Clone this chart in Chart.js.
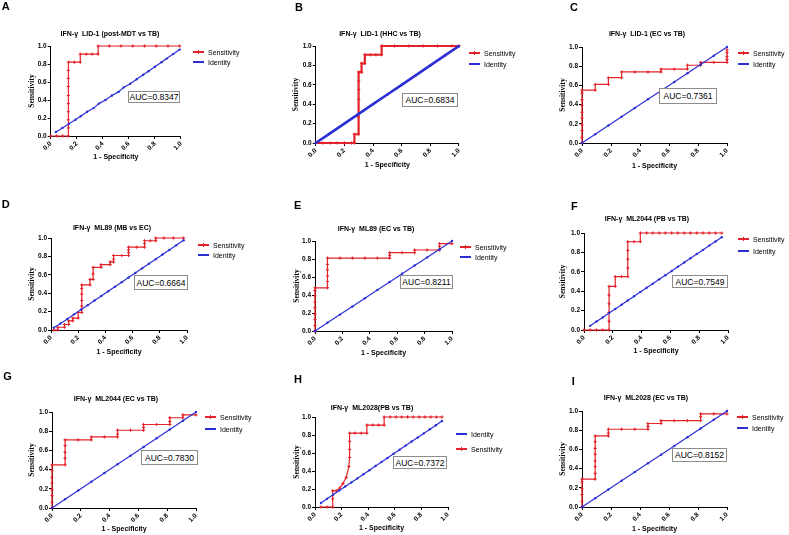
<!DOCTYPE html>
<html>
<head>
<meta charset="utf-8">
<script src="https://cdn.jsdelivr.net/npm/chart.js@4"></script>
<style>
html, body { margin: 0; padding: 0; background: #fff; }
#fig { position: relative; width: 789px; height: 535px; overflow: hidden; font-family: "Liberation Sans", Arial, sans-serif; color: #000; }
#fig canvas { position: absolute; left: 0; top: 0; }
.letter { position: absolute; font-weight: bold; font-size: 11px; line-height: 1; }
.ttl { position: absolute; font-weight: bold; font-size: 7px; line-height: 1; white-space: pre; transform: translate(-50%, -50%); }
.leg { position: absolute; display: flex; align-items: center; height: 8px; font-size: 7px; white-space: nowrap; }
.sw { position: relative; display: inline-block; width: 11px; height: 8px; margin-right: 4px; }
.sw::before { content: ''; position: absolute; left: 0; right: 0; top: 3.4px; height: 1.2px; background: currentColor; }
.sw.dot::after { content: ''; position: absolute; left: 4.2px; top: 2.7px; width: 2.6px; height: 2.6px; border-radius: 50%; background: currentColor; }
.sw.cross::after { content: ''; position: absolute; left: 5px; top: 2px; width: 1px; height: 4px; background: currentColor; }
.auc { position: absolute; box-sizing: border-box; border: 1px solid #8c8c8c; font-size: 8.5px; display: flex; align-items: center; justify-content: center; background: #fff; }
</style>
</head>
<body>
<div id="fig"></div>
<script>
// ROC points: [1 - specificity, sensitivity]
const sensA = [[0,0],[0.045,0],[0.091,0],[0.136,0],[0.136,0.09],[0.136,0.18],[0.136,0.27],[0.136,0.36],[0.136,0.45],[0.136,0.55],[0.136,0.64],[0.136,0.73],[0.136,0.82],[0.182,0.82],[0.227,0.82],[0.227,0.91],[0.273,0.91],[0.318,0.91],[0.364,0.91],[0.364,1],[0.45,1],[0.54,1],[0.63,1],[0.72,1],[0.81,1],[0.9,1],[0.99,1]];
const identA = [[0.04,0.045],[0.09,0.09],[0.14,0.135],[0.19,0.18],[0.23,0.22],[0.28,0.27],[0.33,0.31],[0.37,0.36],[0.42,0.4],[0.47,0.45],[0.52,0.49],[0.56,0.54],[0.61,0.58],[0.66,0.63],[0.71,0.68],[0.75,0.72],[0.8,0.77],[0.85,0.82],[0.89,0.86],[0.94,0.91],[0.99,0.96]];

const sensB = [[0,0],[0.05,0],[0.1,0],[0.15,0],[0.2,0],[0.25,0],[0.27,0],[0.27,0.09],[0.297,0.09],[0.297,0.27],[0.3,0.45],[0.3,0.55],[0.3,0.64],[0.3,0.73],[0.32,0.73],[0.32,0.82],[0.343,0.82],[0.343,0.91],[0.38,0.91],[0.42,0.91],[0.46,0.91],[0.46,1],[0.55,1],[0.65,1],[0.75,1],[0.85,1],[0.95,1],[1,1]];
const identB = [[0,0],[0.1,0.1],[0.2,0.2],[0.3,0.3],[0.4,0.4],[0.5,0.5],[0.6,0.6],[0.7,0.7],[0.8,0.8],[0.9,0.9],[1,1]];

const sensC = [[0,0],[0,0.06],[0,0.13],[0,0.19],[0,0.26],[0,0.32],[0,0.39],[0,0.45],[0,0.52],[0,0.55],[0.091,0.55],[0.091,0.61],[0.182,0.61],[0.182,0.68],[0.273,0.68],[0.273,0.74],[0.364,0.74],[0.455,0.74],[0.545,0.74],[0.545,0.77],[0.636,0.77],[0.727,0.77],[0.727,0.81],[0.818,0.81],[0.818,0.84],[0.909,0.84],[1,0.84],[1,0.87],[1,0.9],[1,0.94],[1,0.97]];
const identC = [[0,0],[0.091,0.091],[0.182,0.182],[0.273,0.273],[0.364,0.364],[0.455,0.455],[0.545,0.545],[0.636,0.636],[0.727,0.727],[0.818,0.818],[0.909,0.909],[1,1]];

const sensD = [[0.02,0],[0.05,0],[0.05,0.03],[0.1,0.03],[0.1,0.06],[0.13,0.06],[0.13,0.1],[0.16,0.1],[0.16,0.13],[0.2,0.13],[0.2,0.19],[0.226,0.19],[0.226,0.26],[0.226,0.32],[0.226,0.39],[0.226,0.45],[0.226,0.49],[0.287,0.49],[0.287,0.55],[0.31,0.55],[0.31,0.61],[0.31,0.68],[0.368,0.68],[0.368,0.71],[0.435,0.71],[0.435,0.74],[0.46,0.74],[0.46,0.77],[0.46,0.81],[0.52,0.81],[0.57,0.81],[0.57,0.84],[0.57,0.87],[0.57,0.9],[0.63,0.9],[0.688,0.9],[0.688,0.94],[0.688,0.97],[0.73,0.97],[0.77,0.97],[0.77,1],[0.83,1],[0.9,1],[0.975,1]];
const identD = [[0.02,0.025],[0.07,0.07],[0.12,0.12],[0.17,0.17],[0.22,0.22],[0.27,0.27],[0.32,0.32],[0.37,0.37],[0.42,0.42],[0.47,0.47],[0.52,0.52],[0.57,0.57],[0.62,0.62],[0.67,0.67],[0.72,0.72],[0.77,0.77],[0.82,0.82],[0.87,0.87],[0.92,0.92],[0.975,0.975]];

const sensE = [[0,0],[0,0.06],[0,0.13],[0,0.19],[0,0.26],[0,0.32],[0,0.39],[0,0.45],[0,0.48],[0.091,0.48],[0.091,0.55],[0.091,0.61],[0.091,0.68],[0.091,0.74],[0.091,0.81],[0.182,0.81],[0.273,0.81],[0.364,0.81],[0.455,0.81],[0.545,0.81],[0.545,0.84],[0.545,0.87],[0.636,0.87],[0.727,0.87],[0.727,0.9],[0.818,0.9],[0.909,0.9],[0.909,0.94],[0.909,0.97],[1,0.97]];
const identE = [[0,0],[0.091,0.091],[0.182,0.182],[0.273,0.273],[0.364,0.364],[0.455,0.455],[0.545,0.545],[0.636,0.636],[0.727,0.727],[0.818,0.818],[0.909,0.909],[1,1]];

const sensF = [[0,0],[0.043,0],[0.087,0],[0.13,0],[0.174,0],[0.174,0.09],[0.174,0.18],[0.174,0.27],[0.174,0.36],[0.174,0.45],[0.217,0.45],[0.217,0.55],[0.261,0.55],[0.304,0.55],[0.304,0.64],[0.304,0.73],[0.304,0.82],[0.304,0.91],[0.348,0.91],[0.391,0.91],[0.391,1],[0.435,1],[0.478,1],[0.522,1],[0.565,1],[0.609,1],[0.652,1],[0.696,1],[0.739,1],[0.783,1],[0.826,1],[0.87,1],[0.913,1],[0.957,1]];
const identF = [[0.043,0.043],[0.087,0.087],[0.13,0.13],[0.174,0.174],[0.217,0.217],[0.261,0.261],[0.304,0.304],[0.348,0.348],[0.391,0.391],[0.435,0.435],[0.478,0.478],[0.522,0.522],[0.565,0.565],[0.609,0.609],[0.652,0.652],[0.696,0.696],[0.739,0.739],[0.783,0.783],[0.826,0.826],[0.87,0.87],[0.913,0.913],[0.957,0.957]];

const sensG = [[0,0],[0,0.06],[0,0.13],[0,0.19],[0,0.26],[0,0.32],[0,0.39],[0,0.45],[0.091,0.45],[0.091,0.52],[0.091,0.58],[0.091,0.65],[0.091,0.71],[0.182,0.71],[0.273,0.71],[0.273,0.74],[0.364,0.74],[0.455,0.74],[0.455,0.77],[0.455,0.81],[0.545,0.81],[0.636,0.81],[0.636,0.84],[0.636,0.87],[0.727,0.87],[0.818,0.87],[0.818,0.9],[0.818,0.94],[0.909,0.94],[0.909,0.97],[1,0.97]];
const identG = [[0,0],[0.091,0.091],[0.182,0.182],[0.273,0.273],[0.364,0.364],[0.455,0.455],[0.545,0.545],[0.636,0.636],[0.727,0.727],[0.818,0.818],[0.909,0.909],[1,1]];

const sensH = [[0.045,0],[0.091,0],[0.133,0],[0.133,0.09],[0.133,0.18],[0.16,0.18],[0.185,0.21],[0.21,0.26],[0.235,0.33],[0.255,0.45],[0.26,0.55],[0.26,0.64],[0.26,0.73],[0.26,0.82],[0.3,0.82],[0.348,0.82],[0.39,0.82],[0.39,0.91],[0.435,0.91],[0.478,0.91],[0.52,0.91],[0.52,1],[0.565,1],[0.609,1],[0.652,1],[0.696,1],[0.739,1],[0.783,1],[0.826,1],[0.87,1],[0.913,1],[0.955,1]];
const identH = [[0.045,0.045],[0.091,0.091],[0.136,0.136],[0.182,0.182],[0.227,0.227],[0.273,0.273],[0.318,0.318],[0.364,0.364],[0.409,0.409],[0.455,0.455],[0.5,0.5],[0.545,0.545],[0.591,0.591],[0.636,0.636],[0.682,0.682],[0.727,0.727],[0.773,0.773],[0.818,0.818],[0.864,0.864],[0.909,0.909],[0.955,0.955]];

const sensI = [[0,0],[0,0.06],[0,0.13],[0,0.19],[0,0.26],[0,0.29],[0.091,0.29],[0.091,0.35],[0.091,0.42],[0.091,0.48],[0.091,0.55],[0.091,0.61],[0.091,0.68],[0.091,0.74],[0.182,0.74],[0.182,0.77],[0.182,0.81],[0.273,0.81],[0.364,0.81],[0.455,0.81],[0.455,0.84],[0.455,0.87],[0.545,0.87],[0.545,0.9],[0.636,0.9],[0.727,0.9],[0.818,0.9],[0.818,0.94],[0.818,0.97],[0.909,0.97],[1,0.97]];
const identI = [[0,0],[0.091,0.091],[0.182,0.182],[0.273,0.273],[0.364,0.364],[0.455,0.455],[0.545,0.545],[0.636,0.636],[0.727,0.727],[0.818,0.818],[0.909,0.909],[1,1]];

const panelLetters = ['A', 'B', 'C', 'D', 'E', 'F', 'G', 'H', 'I'];
const titles = [
  'IFN-γ  LID-1 (post-MDT vs TB)', 'IFN-γ  LID-1 (HHC vs TB)', 'IFN-γ  LID-1 (EC vs TB)',
  'IFN-γ  ML89 (MB vs EC)', 'IFN-γ  ML89 (EC vs TB)', 'IFN-γ  ML2044 (PB vs TB)',
  'IFN-γ  ML2044 (EC vs TB)', 'IFN-γ  ML2028(PB vs TB)', 'IFN-γ  ML2028 (EC vs TB)'
];
const aucValues = ['0.8347', '0.6834', '0.7361', '0.6664', '0.8211', '0.7549', '0.7830', '0.7372', '0.8152'];
const sensSeries = [sensA, sensB, sensC, sensD, sensE, sensF, sensG, sensH, sensI];
const identSeries = [identA, identB, identC, identD, identE, identF, identG, identH, identI];
const axisTicks = [0, 0.2, 0.4, 0.6, 0.8, 1.0];

const RED = '#e3232a';
const BLUE = '#2b2fd4';
const W = 789, H = 535;

// page geometry of each panel: plot box, axis-title centres, letter, title, legend, AUC box
const boxes = [
  { L: 50.7, T: 46, R: 181, B: 136, yt: 32, xt: 157, let: [1.7, 1.3], ttl: [110, 33], leg: [193, 52, 62], auc: [128, 91, 52, 12] },
  { L: 315.7, T: 46, R: 459, B: 143, yt: 296, xt: 165, let: [295, 1.5], ttl: [380, 33], leg: [469, 53, 64], auc: [402, 93, 56, 14], thick: true },
  { L: 582, T: 47, R: 727, B: 143, yt: 563, xt: 166, let: [570, 1.5], ttl: [647, 33], leg: [738, 53, 64], auc: [659, 88, 58, 16] },
  { L: 51, T: 238, R: 187, B: 330, yt: 32, xt: 352, let: [1.7, 198.5], ttl: [112, 227], leg: [198, 245, 255], auc: [134, 275, 54, 15] },
  { L: 315, T: 241, R: 452, B: 331, yt: 297, xt: 353, let: [294, 199.5], ttl: [376, 228], leg: [460, 247, 257], auc: [400, 275, 53, 14] },
  { L: 584, T: 233, R: 728, B: 330, yt: 563, xt: 351, let: [571, 200.5], ttl: [647, 218], leg: [738, 239, 251], auc: [672, 275, 56, 13] },
  { L: 52, T: 412, R: 196, B: 508, yt: 32, xt: 529, let: [3.3, 370.5], ttl: [116, 398], leg: [205, 417, 429], auc: [141, 450, 57, 15] },
  { L: 315, T: 417, R: 448, B: 507, yt: 297, xt: 528, let: [294, 373.5], ttl: [372, 407], leg: [456, 449, 434], auc: [393, 456, 54, 13] },
  { L: 582, T: 411, R: 727, B: 507, yt: 563, xt: 529, let: [571.7, 375.5], ttl: [646, 397], leg: [737, 417, 428], auc: [672, 448, 55, 14] }
];

const fig = document.getElementById('fig');
const tickFont = { family: '"Liberation Sans", Arial, sans-serif', size: 6.5, weight: 'bold' };
const yTitleFont = { family: '"Liberation Serif", "Times New Roman", serif', size: 7.5, weight: 'bold', lineHeight: 1.2 };
const xTitleFont = { family: '"Liberation Sans", Arial, sans-serif', size: 7, weight: 'bold', lineHeight: 1.2 };

function addDiv( cls, html, css ) {
	const d = document.createElement( 'div' );
	d.className = cls;
	d.innerHTML = html;
	Object.assign( d.style, css );
	fig.appendChild( d );
	return d;
}

function drawPanel( i ) {
	const b = boxes[ i ];
	const canvas = document.createElement( 'canvas' );
	canvas.width = W;
	canvas.height = H;
	fig.appendChild( canvas );

	const yLeft = b.yt - ( yTitleFont.size * yTitleFont.lineHeight ) / 2;
	const xBottom = b.xt + ( xTitleFont.size * xTitleFont.lineHeight ) / 2;
	const lw = b.thick ? 2.2 : 1.2;

	const axis = ( extra ) => Object.assign( {
		type: 'linear',
		min: 0,
		max: 1,
		afterBuildTicks: ( s ) => { s.ticks = axisTicks.map( ( v ) => ( { value: v } ) ); },
		grid: { display: true, drawOnChartArea: false, drawTicks: true, tickLength: 3, color: '#000', lineWidth: 1 },
		border: { display: true, color: '#000', width: 1 },
	}, extra );

	new Chart( canvas, {
		type: 'scatter',
		data: {
			datasets: [
				{ label: 'Identity', data: identSeries[ i ].map( ( [ x, y ] ) => ( { x, y } ) ), showLine: true, borderColor: BLUE, backgroundColor: BLUE, borderWidth: b.thick ? 2.6 : lw, pointRadius: 1.2, pointBorderWidth: 0, pointStyle: 'circle', clip: false },
				{ label: 'Sensitivity', data: sensSeries[ i ].map( ( [ x, y ] ) => ( { x, y } ) ), showLine: true, borderColor: RED, backgroundColor: RED, borderWidth: lw, pointRadius: 1.6, pointBorderWidth: 1, pointStyle: 'cross', clip: false },
			],
		},
		options: {
			responsive: false,
			animation: false,
			events: [],
			layout: { padding: { left: yLeft, top: b.T, right: W - b.R, bottom: H - xBottom } },
			plugins: { legend: { display: false }, tooltip: { enabled: false } },
			scales: {
				x: axis( {
					position: 'bottom',
					afterFit: ( s ) => { s.height = xBottom - b.B; },
					ticks: { autoSkip: false, minRotation: 45, maxRotation: 45, padding: 1, color: '#000', font: tickFont, callback: ( v ) => Number( v ).toFixed( 1 ) },
					title: { display: true, text: '1 - Specificity', padding: 0, color: '#000', font: xTitleFont },
				} ),
				y: axis( {
					position: 'left',
					afterFit: ( s ) => { s.width = b.L - yLeft; },
					ticks: { padding: 1, color: '#000', font: tickFont, callback: ( v ) => Number( v ).toFixed( 1 ) },
					title: { display: true, text: 'Sensitivity', padding: 0, color: '#000', font: yTitleFont },
				} ),
			},
		},
	} );

	// panel letter, title, legend and AUC label
	addDiv( 'letter', panelLetters[ i ], { left: b.let[ 0 ] + 'px', top: b.let[ 1 ] + 'px' } );
	addDiv( 'ttl', titles[ i ], { left: b.ttl[ 0 ] + 'px', top: b.ttl[ 1 ] + 'px' } );
	addDiv( 'leg', `<span class="sw cross" style="color:${ RED }"></span>Sensitivity`, { left: b.leg[ 0 ] + 'px', top: ( b.leg[ 1 ] - 4 ) + 'px' } );
	addDiv( 'leg', `<span class="sw dot" style="color:${ BLUE }"></span>Identity`, { left: b.leg[ 0 ] + 'px', top: ( b.leg[ 2 ] - 4 ) + 'px' } );
	addDiv( 'auc', 'AUC=' + aucValues[ i ], { left: b.auc[ 0 ] + 'px', top: b.auc[ 1 ] + 'px', width: b.auc[ 2 ] + 'px', height: b.auc[ 3 ] + 'px' } );
}

for ( let i = 0; i < boxes.length; i++ ) drawPanel( i );
</script>
</body>
</html>
